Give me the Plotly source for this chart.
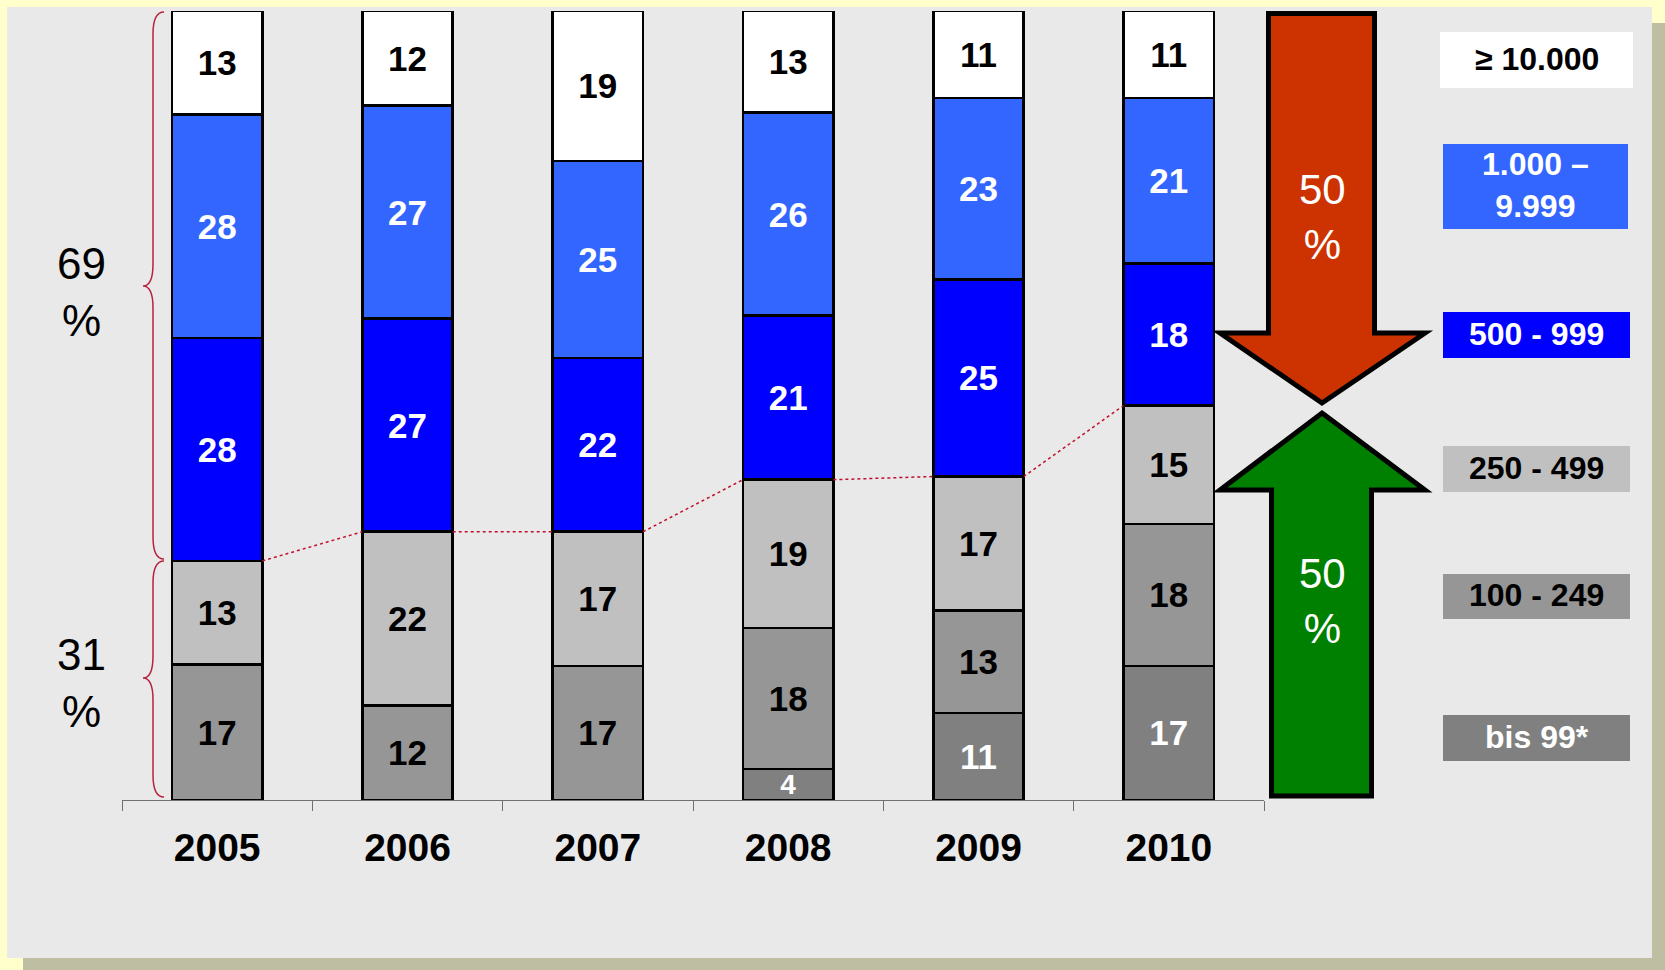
import plotly.graph_objects as go

# ---------------- data ----------------
years = ['2005', '2006', '2007', '2008', '2009', '2010']
bis_99 = [None, None, None, 4, 11, 17]
s100_249 = [17, 12, 17, 18, 13, 18]
s250_499 = [13, 22, 17, 19, 17, 15]
s500_999 = [28, 27, 22, 21, 25, 18]
s1000_9999 = [28, 27, 25, 26, 23, 21]
s10000 = [13, 12, 19, 13, 11, 11]

class_labels = ['bis 99*', '100 - 249', '250 - 499', '500 - 999', '1.000 –<br>9.999', '≥ 10.000']
group_labels = ['69<br>%', '31<br>%']
arrow_labels = ['50<br>%', '50<br>%']

# ---------------- styling ----------------
W, H = 1665, 970
L, R, T, B = 122, 1264, 11, 800
FONT = 'Liberation Sans, Arial, sans-serif'
fills = ['#808080', '#969696', '#c0c0c0', '#0000ff', '#3366ff', '#ffffff']
txtcol = ['#ffffff', '#000000', '#000000', '#ffffff', '#ffffff', '#000000']
bar_w = 0.475

def px(x):
    return (x - L) / (R - L)

def py(y):
    return (B - y) / (B - T)

series = [bis_99, s100_249, s250_499, s500_999, s1000_9999, s10000]
xs = list(range(len(years)))

fig = go.Figure()
for k, vals in enumerate(series):
    texts = ['' if v is None else str(v) for v in vals]
    sizes = [28 if (v is not None and v < 6) else 35 for v in vals]
    fig.add_trace(go.Bar(
        x=xs, y=vals, width=bar_w, name=class_labels[k],
        marker=dict(color=fills[k], line=dict(color='#000000', width=2.5)),
        text=texts, texttemplate='%{text}', textposition='inside',
        insidetextanchor='middle', textangle=0, constraintext='none',
        textfont=dict(family=FONT, size=sizes, color=txtcol[k], weight='bold'),
        hoverinfo='skip', showlegend=False,
    ))

# dotted connector along top of the three lower classes
lx, ly = [], []
def lower_pct(i):
    parts = [s[i] or 0 for s in series]
    return sum(parts[:3]) / sum(parts) * 100
for i in range(len(years) - 1):
    lx += [i + bar_w / 2, i + 1 - bar_w / 2, None]
    ly += [lower_pct(i), lower_pct(i + 1), None]
fig.add_trace(go.Scatter(x=lx, y=ly, mode='lines',
                         line=dict(color='#c0102e', width=1.5, dash='dot'),
                         hoverinfo='skip', showlegend=False))

shapes = []
# background, shadow
shadow = '#bebea2'
shapes.append(dict(type='rect', xref='paper', yref='paper', layer='below',
                   x0=px(1652), x1=px(1665), y0=py(23), y1=py(970),
                   fillcolor=shadow, line=dict(width=0)))
shapes.append(dict(type='rect', xref='paper', yref='paper', layer='below',
                   x0=px(23), x1=px(1665), y0=py(958), y1=py(970),
                   fillcolor=shadow, line=dict(width=0)))
shapes.append(dict(type='rect', xref='paper', yref='paper', layer='below',
                   x0=px(7), x1=px(1652), y0=py(7), y1=py(958),
                   fillcolor='#e9e9e9', line=dict(width=0)))

def path(points):
    return 'M ' + ' L '.join(f'{px(x):.5f},{py(y):.5f}' for x, y in points) + ' Z'

def brace(xr, xs_, xt, y0, ym, y1, d=22):
    P = lambda x, y: f'{px(x):.5f},{py(y):.5f}'
    return (f'M {P(xr, y0)} Q {P(xs_, y0)} {P(xs_, y0 + d)} L {P(xs_, ym - d)} '
            f'Q {P(xs_, ym)} {P(xt, ym)} Q {P(xs_, ym)} {P(xs_, ym + d)} '
            f'L {P(xs_, y1 - d)} Q {P(xs_, y1)} {P(xr, y1)}')

for (y0, ym, y1) in [(12, 286, 559), (561, 678, 797)]:
    shapes.append(dict(type='path', xref='paper', yref='paper',
                       path=brace(164, 153, 143, y0, ym, y1),
                       line=dict(color='#b8213f', width=1.5)))

# arrows
red_arrow = [(1268.5, 13.5), (1374.5, 13.5), (1374.5, 333), (1425, 333),
             (1322, 403), (1220, 333), (1268.5, 333)]
green_arrow = [(1322, 413), (1425, 490), (1371.5, 490), (1371.5, 796),
               (1271.5, 796), (1271.5, 490), (1220, 490)]
shapes.append(dict(type='path', xref='paper', yref='paper', path=path(red_arrow),
                   fillcolor='#cc3300', line=dict(color='#000000', width=5)))
shapes.append(dict(type='path', xref='paper', yref='paper', path=path(green_arrow),
                   fillcolor='#008000', line=dict(color='#000000', width=5)))

# legend boxes (top to bottom)
boxes = [(1440, 1633, 32, 88), (1443, 1628, 144, 229), (1443, 1630, 312, 358),
         (1443, 1630, 446, 492), (1443, 1630, 574, 619), (1443, 1630, 715, 761)]
annotations = []
for j, (x0, x1, y0, y1) in enumerate(boxes):
    k = 5 - j
    shapes.append(dict(type='rect', xref='paper', yref='paper',
                       x0=px(x0), x1=px(x1), y0=py(y0), y1=py(y1),
                       fillcolor=fills[k], line=dict(width=0)))
    annotations.append(dict(xref='paper', yref='paper', x=px((x0 + x1) / 2),
                            y=py((y0 + y1) / 2 - 1.5), text=class_labels[k], showarrow=False,
                            xanchor='center', yanchor='middle',
                            font=dict(family=FONT, size=32, color=txtcol[k], weight='bold')))

for lab, yc in zip(group_labels, [292, 683]):
    annotations.append(dict(xref='paper', yref='paper', x=px(81), y=py(yc), text=lab,
                            showarrow=False, xanchor='center', yanchor='middle',
                            font=dict(family=FONT, size=44, color='#000000')))
for lab, yc in zip(arrow_labels, [217, 601]):
    annotations.append(dict(xref='paper', yref='paper', x=px(1322), y=py(yc), text=lab,
                            showarrow=False, xanchor='center', yanchor='middle',
                            font=dict(family=FONT, size=42, color='#ffffff')))

fig.update_layout(
    width=W, height=H, autosize=False,
    margin=dict(l=L, r=W - R, t=T, b=H - B, pad=0),
    paper_bgcolor='#ffffcc', plot_bgcolor='rgba(0,0,0,0)',
    barmode='stack', barnorm='percent',
    shapes=shapes, annotations=annotations,
    xaxis=dict(range=[-0.5, 5.5], tickvals=xs, ticktext=years, ticks='',
               tickfont=dict(family=FONT, size=39, color='#000000', weight='bold'),
               ticklabelstandoff=13,
               showline=True, linecolor='#707070', linewidth=1,
               showgrid=False, zeroline=False, fixedrange=True,
               minor=dict(tick0=-0.5, dtick=1, ticks='outside', ticklen=10,
                          tickcolor='#707070', tickwidth=1, showgrid=False)),
    yaxis=dict(range=[0, 100], visible=False, fixedrange=True),
    showlegend=False,
)

fig.write_html('out.html', config={'displayModeBar': False},
               post_script="document.body.style.margin='0';document.body.style.overflow='hidden';")
